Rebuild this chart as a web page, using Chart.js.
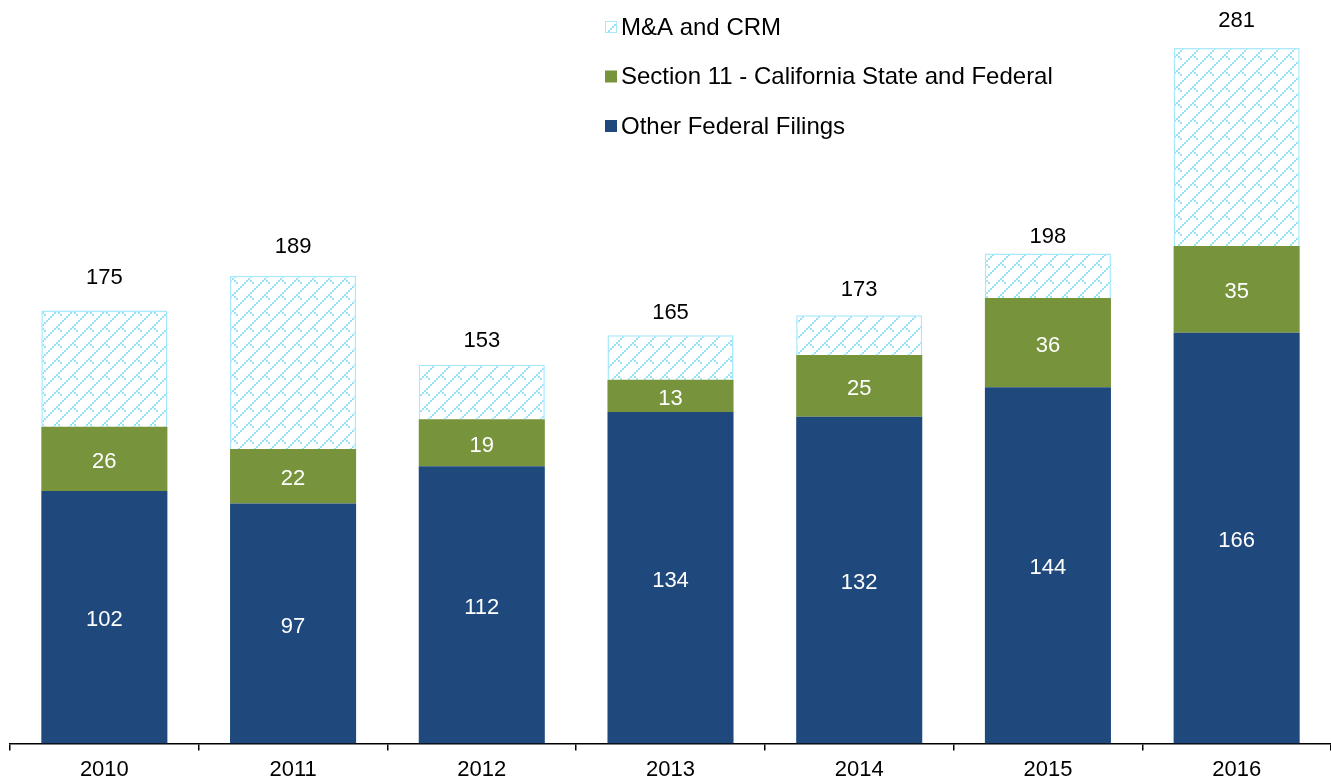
<!DOCTYPE html>
<html>
<head>
<meta charset="utf-8">
<script src="https://cdn.jsdelivr.net/npm/chart.js@4.4.1/dist/chart.umd.min.js"></script>
<style>
  html, body { margin: 0; padding: 0; background: #fff; }
  #wrap { width: 1331px; height: 781px; position: relative; overflow: hidden; }
</style>
</head>
<body>
<div id="wrap"><canvas id="myChart" width="1331" height="789"></canvas></div>
<script>
const years = ["2010", "2011", "2012", "2013", "2014", "2015", "2016"];
const otherFederal = [102, 97, 112, 134, 132, 144, 166];
const section11 = [26, 22, 19, 13, 25, 36, 35];
const maCrm = [47, 70, 22, 18, 16, 18, 80];
const totals = [175, 189, 153, 165, 173, 198, 281];
// gap (px) between bar top and its total label, as placed in the original
const totalGap = [34, 31, 26, 24, 27, 19, 29];

const FONT = "'Liberation Sans', Arial, sans-serif";

// weave-like hatch: long up-right diagonals with short down-right stubs, 2px cells
function makeHatch() {
  const cells = [];
  for (let i = 0; i < 8; i++) cells.push([i, 7 - i]);
  cells.push([5, 4], [6, 5]);
  const c = document.createElement("canvas");
  c.width = 16;
  c.height = 16;
  const g = c.getContext("2d");
  g.fillStyle = "#ffffff";
  g.fillRect(0, 0, 16, 16);
  g.fillStyle = "#97e2fb";
  cells.forEach(([x, y]) => g.fillRect(x * 2, y * 2, 2, 2));
  return g.createPattern(c, "repeat");
}
const ctx = document.getElementById("myChart").getContext("2d");
const hatch = makeHatch();

// labels inside and totals above
const barLabels = {
  id: "barLabels",
  afterDatasetsDraw(chart) {
    const c = chart.ctx;
    c.save();
    c.font = "22px " + FONT;
    c.textAlign = "center";
    c.textBaseline = "middle";
    [0, 1].forEach((di) => {
      const meta = chart.getDatasetMeta(di);
      meta.data.forEach((bar, i) => {
        c.fillStyle = "#ffffff";
        c.fillText(chart.data.datasets[di].data[i], bar.x, (bar.y + bar.base) / 2 + 3);
      });
    });
    const top = chart.getDatasetMeta(2);
    top.data.forEach((bar, i) => {
      c.fillStyle = "#000000";
      c.fillText(totals[i], bar.x, bar.y - totalGap[i] + 2);
    });
    c.restore();
  },
};

// vertical legend, reversed order
const sideLegend = {
  id: "sideLegend",
  afterDraw(chart) {
    const c = chart.ctx;
    c.save();
    c.font = "24px " + FONT;
    c.textBaseline = "middle";
    const ds = chart.data.datasets.slice().reverse();
    ds.forEach((d, i) => {
      const y = 27 + i * 49.5;
      c.fillStyle = d.backgroundColor;
      c.fillRect(605, y - 6, 12, 12);
      if (d.borderColor && d.borderWidth) {
        c.strokeStyle = d.borderColor;
        c.lineWidth = 1;
        c.strokeRect(605.5, y - 5.5, 11, 11);
      }
      c.fillStyle = "#000000";
      c.fillText(d.label, 621, y + 1);
    });
    c.restore();
  },
};

new Chart(ctx, {
  type: "bar",
  data: {
    labels: years,
    datasets: [
      {
        label: "Other Federal Filings",
        data: otherFederal,
        backgroundColor: "#1f497d",
      },
      {
        label: "Section 11 - California State and Federal",
        data: section11,
        backgroundColor: "#77933c",
      },
      {
        label: "M&A and CRM",
        data: maCrm,
        backgroundColor: hatch,
        borderColor: "#a6e8fc",
        borderWidth: 1.5,
        borderSkipped: "bottom",
      },
    ],
  },
  options: {
    responsive: false,
    animation: false,
    layout: { padding: { left: 10, right: 0, top: 1, bottom: 0 } },
    datasets: {
      bar: { categoryPercentage: 1, barPercentage: 0.668 },
    },
    plugins: {
      legend: { display: false },
      tooltip: { enabled: false },
    },
    scales: {
      x: {
        stacked: true,
        border: { display: true, color: "#000000", width: 1.5 },
        grid: {
          offset: true,
          drawOnChartArea: false,
          drawTicks: true,
          tickLength: 7,
          color: "#000000",
          lineWidth: 1.5,
        },
        ticks: {
          color: "#000000",
          font: { family: FONT, size: 22 },
          padding: 6,
          maxRotation: 0,
        },
      },
      y: {
        stacked: true,
        display: false,
        min: 0,
        max: 300,
      },
    },
  },
  plugins: [barLabels, sideLegend],
});
</script>
</body>
</html>
